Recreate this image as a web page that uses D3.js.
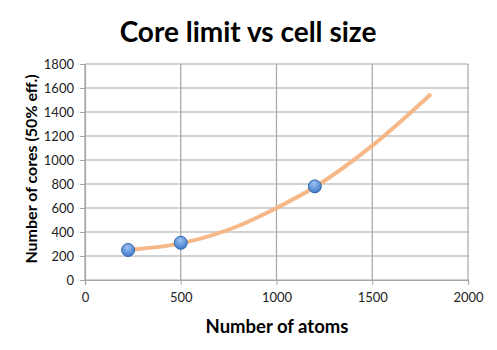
<!DOCTYPE html>
<html>
<head>
<meta charset="utf-8">
<script src="https://cdn.jsdelivr.net/npm/d3@7"></script>
<style>
    body { margin: 0; background: #fff; }
    svg { display: block; }
</style>
</head>
<body>
<svg id="chart" width="497" height="350"></svg>
<script>
// data
const atoms = [225, 500, 1200];
const cores = [250, 310, 780];

// trend line (polynomial fit)
const trendAtoms = [225, 500, 800, 1000, 1200, 1500, 1800];
const trendCores = [250, 305, 450, 600, 775, 1120, 1540];

const xTicks = [0, 500, 1000, 1500, 2000];
const yTicks = [0, 200, 400, 600, 800, 1000, 1200, 1400, 1600, 1800];

const MARGIN = {top: 64, right: 29, bottom: 70, left: 85};
const WIDTH = 497, HEIGHT = 350;
const FONT = 'Lato, "Open Sans", sans-serif';

const svg = d3.select('#chart');

const xScale = d3.scaleLinear()
    .domain([0, 2000])
    .range([MARGIN.left, WIDTH - MARGIN.right]);

const yScale = d3.scaleLinear()
    .domain([0, 1800])
    .range([HEIGHT - MARGIN.bottom, MARGIN.top]);

// marker gradient
const grad = svg.append('defs').append('radialGradient')
    .attr('id', 'dot')
    .attr('cx', '45%').attr('cy', '30%').attr('r', '70%');
grad.append('stop').attr('offset', '0%').attr('stop-color', '#9cc2f2');
grad.append('stop').attr('offset', '100%').attr('stop-color', '#3f78c9');

// gridlines
svg.append('g')
    .selectAll('line.h')
    .data(yTicks)
    .join('line')
    .attr('x1', MARGIN.left).attr('x2', WIDTH - MARGIN.right)
    .attr('y1', d => yScale(d)).attr('y2', d => yScale(d))
    .attr('stroke', '#a6a6a6').attr('stroke-width', 1.2);

svg.append('g')
    .selectAll('line.v')
    .data(xTicks)
    .join('line')
    .attr('y1', MARGIN.top).attr('y2', HEIGHT - MARGIN.bottom)
    .attr('x1', d => xScale(d)).attr('x2', d => xScale(d))
    .attr('stroke', '#a6a6a6').attr('stroke-width', 1.2);

// axes
const xAxis = d3.axisBottom(xScale).tickValues(xTicks).tickFormat(d3.format('d'))
    .tickSize(5).tickPadding(8);
const yAxis = d3.axisLeft(yScale).tickValues(yTicks).tickFormat(d3.format('d'))
    .tickSize(5).tickPadding(6);

const gx = svg.append('g')
    .attr('transform', `translate(0, ${HEIGHT - MARGIN.bottom})`)
    .call(xAxis);
const gy = svg.append('g')
    .attr('transform', `translate(${MARGIN.left}, 0)`)
    .call(yAxis);

[gx, gy].forEach(g => {
    g.select('.domain').attr('stroke', '#a6a6a6').attr('stroke-width', 1.2);
    g.selectAll('.tick line').attr('stroke', '#a6a6a6');
    g.selectAll('.tick text')
        .attr('fill', '#222')
        .style('font-family', FONT)
        .style('font-size', '13px');
});

// trend line
const line = d3.line()
    .x((d, i) => xScale(d))
    .y((d, i) => yScale(trendCores[i]))
    .curve(d3.curveMonotoneX);

svg.append('path')
    .attr('d', line(trendAtoms))
    .attr('fill', 'none')
    .attr('stroke', '#f5b482')
    .attr('stroke-width', 4)
    .attr('stroke-linecap', 'round')
    .attr('opacity', 0.95);

// points
svg.append('g')
    .selectAll('circle')
    .data(atoms)
    .join('circle')
    .attr('cx', d => xScale(d))
    .attr('cy', (d, i) => yScale(cores[i]))
    .attr('r', 6.5)
    .attr('fill', 'url(#dot)')
    .attr('stroke', '#3566a8')
    .attr('stroke-width', 1);

// title and labels
svg.append('text')
    .text('Core limit vs cell size')
    .attr('x', 248).attr('y', 42)
    .attr('text-anchor', 'middle')
    .style('font-family', FONT)
    .style('font-weight', 'bold')
    .style('font-size', '28px')
    .attr('fill', '#000');

svg.append('text')
    .text('Number of atoms')
    .attr('x', 277).attr('y', 333)
    .attr('text-anchor', 'middle')
    .style('font-family', FONT)
    .style('font-weight', 'bold')
    .style('font-size', '18.5px')
    .attr('fill', '#000');

svg.append('text')
    .text('Number of cores (50% eff.)')
    .attr('transform', `translate(37, 169) rotate(-90)`)
    .attr('text-anchor', 'middle')
    .style('font-family', FONT)
    .style('font-weight', 'bold')
    .style('font-size', '16px')
    .attr('fill', '#000');
</script>
</body>
</html>
